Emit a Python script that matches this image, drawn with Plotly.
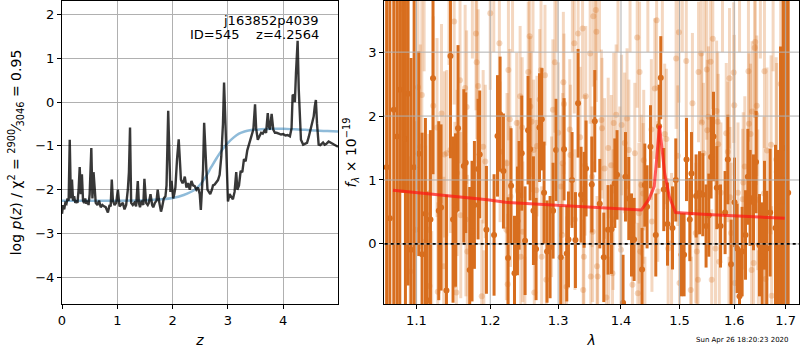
import plotly.graph_objects as go
import math

# ---------------- left panel: redshift probability ----------------
pz_z = [0.00, 0.02, 0.04, 0.06, 0.08, 0.10, 0.12, 0.14, 0.16, 0.18,
        0.20, 0.22, 0.24, 0.26, 0.28, 0.30, 0.32, 0.34, 0.36, 0.38,
        0.40, 0.42, 0.44, 0.46, 0.48, 0.50, 0.53, 0.55, 0.57, 0.59,
        0.61, 0.64, 0.67, 0.70, 0.73, 0.76, 0.79, 0.83, 0.86, 0.88,
        0.90, 0.92, 0.95, 0.98, 1.01, 1.04, 1.07, 1.10, 1.13, 1.16,
        1.19, 1.21, 1.23, 1.25, 1.28, 1.31, 1.34, 1.37, 1.39, 1.41,
        1.44, 1.47, 1.49, 1.52, 1.55, 1.57, 1.60, 1.63, 1.65, 1.68,
        1.71, 1.73, 1.76, 1.79, 1.81, 1.84, 1.87, 1.89, 1.92, 1.94,
        1.96, 1.98, 2.01, 2.03, 2.05, 2.08, 2.11, 2.13, 2.15, 2.18,
        2.20, 2.22, 2.25, 2.28, 2.31, 2.34, 2.37, 2.40, 2.43, 2.46,
        2.49, 2.51, 2.54, 2.55, 2.57, 2.59, 2.61, 2.63, 2.65, 2.68,
        2.71, 2.73, 2.76, 2.79, 2.82, 2.85, 2.88, 2.91, 2.93, 2.95,
        2.97, 3.00, 3.03, 3.06, 3.09, 3.12, 3.15, 3.17, 3.20, 3.23,
        3.26, 3.29, 3.32, 3.35, 3.38, 3.41, 3.44, 3.46, 3.49, 3.51,
        3.54, 3.57, 3.60, 3.63, 3.66, 3.69, 3.72, 3.74, 3.76, 3.79,
        3.82, 3.85, 3.88, 3.92, 3.96, 4.00, 4.04, 4.08, 4.12, 4.15,
        4.17, 4.19, 4.21, 4.23, 4.26, 4.28, 4.30, 4.32, 4.36, 4.40,
        4.43, 4.46, 4.49, 4.52, 4.55, 4.57, 4.59, 4.61, 4.64, 4.67,
        4.70, 4.72, 4.75, 4.78, 4.82, 4.85, 4.88, 4.91, 4.94, 4.97,
        4.99]
pz_logp = [-2.55, -2.35, -2.45, -2.30, -2.32, -2.20, -2.25, -0.86, -2.20, -1.77,
           -2.25, -2.15, -2.30, -2.25, -2.30, -2.00, -1.48, -2.10, -1.65, -2.25,
           -2.30, -2.20, -2.32, -2.25, -2.35, -2.10, -1.05, -2.20, -1.60, -2.05,
           -2.30, -2.35, -2.25, -2.40, -2.35, -2.38, -2.40, -2.52, -2.35, -2.38,
           -1.77, -2.25, -2.35, -2.30, -2.00, -2.38, -2.35, -2.30, -2.45, -2.35,
           -2.00, -1.60, -0.58, -2.30, -2.35, -2.30, -2.38, -1.80, -2.30, -2.40,
           -2.25, -2.35, -1.75, -2.30, -2.35, -2.30, -2.10, -2.35, -2.40, -2.30,
           -2.25, -2.00, -2.30, -2.50, -2.40, -2.20, -2.15, -1.90, -0.20, -1.50,
           -2.05, -1.80, -2.20, -2.10, -1.95, -1.30, -0.85, -1.30, -1.77, -1.85,
           -1.80, -1.70, -1.95, -1.85, -2.00, -1.80, -1.90, -1.92, -2.00, -1.95,
           -2.10, -2.46, -1.90, -1.54, -0.47, -1.20, -1.54, -2.00, -2.05, -2.10,
           -2.00, -1.90, -1.88, -1.83, -1.78, -1.66, -1.24, -0.50, 0.45, -0.30,
           -1.37, -2.27, -2.10, -2.15, -2.22, -2.05, -1.60, -2.00, -1.90, -1.57,
           -1.60, -1.30, -1.35, -1.10, -0.97, -0.85, -0.70, -0.62, -0.05, -0.60,
           -0.86, -0.78, -0.70, -0.72, -0.65, -0.70, -0.25, -0.55, -0.63, -0.27,
           -0.63, -0.70, -0.70, -0.72, -0.74, -0.73, -0.76, -0.75, -0.78, -0.60,
           0.17, 0.15, 0.00, 0.66, 1.40, 0.30, -0.40, -0.86, -0.97, -0.95,
           -0.93, -0.80, -0.63, -0.50, -0.33, -0.10, 0.05, -0.48, -0.97, -0.98,
           -0.95, -0.92, -0.97, -0.95, -0.90, -0.92, -0.93, -0.95, -0.97, -1.00,
           -1.02]

prior_z = [0.0, 0.5, 1.0, 1.5, 1.8, 2.0, 2.2, 2.4, 2.5, 2.6, 2.7, 2.8, 2.9,
           3.0, 3.1, 3.2, 3.3, 3.4, 3.6, 3.8, 4.0, 4.2, 4.4, 4.6, 4.8, 4.99]
prior_logp = [-2.25, -2.25, -2.25, -2.24, -2.22, -2.19, -2.12, -2.00, -1.88, -1.70,
              -1.48, -1.27, -1.08, -0.93, -0.81, -0.72, -0.67, -0.64, -0.62, -0.61,
              -0.61, -0.62, -0.63, -0.65, -0.66, -0.67]

z_ticks = [0, 1, 2, 3, 4]
logp_ticks = [-4, -3, -2, -1, 0, 1, 2]
z_range = [0, 4.99]
logp_range = [-4.61, 2.31]

# ---------------- right panel: spectrum ----------------
dark_wave = [1.062, 1.066, 1.071, 1.0751, 1.0786, 1.0822, 1.0858, 1.0892, 1.0930, 1.0970,
             1.1030, 1.1073, 1.1117, 1.1138, 1.1183, 1.1217, 1.1293, 1.1324, 1.1396, 1.1450,
             1.1485, 1.1518, 1.1553, 1.1631, 1.1658, 1.1713, 1.1745, 1.1778, 1.1829, 1.1852,
             1.1946, 1.2054, 1.2103, 1.2140, 1.2188, 1.2255, 1.2298, 1.2348, 1.2391, 1.2415,
             1.2454, 1.2503, 1.2547, 1.2577, 1.2627, 1.2666, 1.2717, 1.2752, 1.2786, 1.2831,
             1.2877, 1.2923, 1.2968, 1.3040, 1.3091, 1.3133, 1.3159, 1.3215, 1.3268, 1.3309,
             1.3356, 1.3404, 1.3435, 1.3526, 1.3574, 1.3654, 1.3719, 1.3788, 1.3844, 1.3898,
             1.3935, 1.4034, 1.4074, 1.4129, 1.4174, 1.4218, 1.4352, 1.4398, 1.4437, 1.4495,
             1.4586, 1.4643, 1.4672, 1.4724, 1.4789, 1.4876, 1.4934, 1.5035, 1.5081, 1.5124,
             1.5183, 1.5213, 1.5296, 1.5358, 1.5417, 1.5477, 1.5527, 1.5569, 1.5613, 1.5674,
             1.5743, 1.5828, 1.5879, 1.5941, 1.6005, 1.6054, 1.6099, 1.6149, 1.6214, 1.6258,
             1.6302, 1.6367, 1.6417, 1.6483, 1.6534, 1.6581, 1.6626, 1.6691, 1.6797, 1.6849,
             1.6897, 1.6950, 1.7000, 1.7050]
dark_flux = [1.20, 0.40, 2.10, 1.68, 2.41, 4.30, 1.64, 2.35, -0.09, 1.20,
             1.41, -0.16, 0.47, -0.88, 0.38, 2.59, 0.52, 0.57, -0.73, 2.94,
             0.38, 0.53, 1.81, 1.22, 1.27, -0.41, 0.20, 0.61, 1.17, 1.40,
             0.22, 0.14, 1.69, 2.03, 1.14, -0.22, 0.91, -0.46, 0.36, 0.76,
             1.42, 0.05, 1.78, 1.48, 0.52, -0.08, 1.82, 1.95, 0.80, -0.12,
             -0.05, 0.52, 1.47, -0.21, 1.48, -0.15, 0.07, 1.00, 0.06, 2.20,
             0.77, 0.69, 1.18, 0.93, 1.92, 0.63, -0.21, 0.22, 0.23, 0.95,
             1.08, -0.92, 1.05, 0.71, 0.14, 0.07, -0.40, 0.92, 0.58, 1.52,
             0.14, 1.84, 2.60, 0.85, 0.31, 0.25, 1.00, -0.17, -0.17, 1.32,
             0.38, 1.10, 0.75, 0.80, 0.77, 0.28, 0.45, 1.36, 1.68, 0.88,
             0.28, 0.49, 1.32, -0.32, 0.65, -0.07, -0.82, -0.12, 0.14, 1.05,
             0.72, 0.65, 1.28, -0.02, -0.20, 0.45, -0.07, 0.49, 0.25, -0.33,
             0.59, 1.00, 1.50, 0.80]
dark_err = [5.0, 5.0, 4.5, 4.0, 3.8, 3.5, 3.2, 3.0, 3.0, 2.6,
            1.6, 1.9, 1.5, 1.7, 1.4, 1.5, 1.4, 1.3, 1.5, 1.6,
            1.3, 1.2, 1.3, 1.2, 1.1, 1.3, 1.1, 1.0, 1.1, 1.0,
            1.0, 0.95, 0.95, 0.90, 0.90, 0.95, 0.90, 0.90, 0.85, 0.85,
            0.90, 0.85, 0.85, 0.80, 0.85, 0.80, 0.85, 0.80, 0.80, 0.80,
            0.80, 0.75, 0.80, 0.80, 0.80, 0.75, 0.75, 0.75, 0.75, 0.85,
            0.75, 0.75, 0.75, 0.75, 0.80, 0.70, 0.70, 0.70, 0.70, 0.70,
            0.70, 0.75, 0.70, 0.65, 0.65, 0.65, 0.65, 0.65, 0.65, 0.65,
            0.65, 0.65, 0.65, 0.65, 0.65, 0.65, 0.65, 0.65, 0.65, 0.65,
            0.65, 0.65, 0.65, 0.65, 0.65, 0.65, 0.65, 0.65, 0.70, 0.65,
            0.65, 0.65, 0.70, 0.70, 0.70, 0.70, 0.75, 0.70, 0.70, 0.75,
            0.75, 0.75, 0.80, 0.80, 0.85, 0.85, 0.90, 1.0, 1.3, 1.8,
            2.5, 5.0, 5.0, 6.0]

light_wave = [1.081, 1.085, 1.092, 1.099, 1.102, 1.105, 1.107, 1.110, 1.112, 1.116,
              1.117, 1.120, 1.122, 1.127, 1.128, 1.133, 1.136, 1.137, 1.140, 1.143,
              1.145, 1.150, 1.151, 1.153, 1.154, 1.158, 1.159, 1.165, 1.166, 1.167,
              1.168, 1.175, 1.180, 1.181, 1.183, 1.188, 1.190, 1.191, 1.193, 1.200,
              1.205, 1.213, 1.214, 1.223, 1.224, 1.225, 1.226, 1.228, 1.229, 1.232,
              1.238, 1.240, 1.243, 1.244, 1.246, 1.247, 1.250, 1.255, 1.257, 1.258,
              1.260, 1.262, 1.263, 1.264, 1.267, 1.268, 1.272, 1.274, 1.275, 1.280,
              1.282, 1.290, 1.292, 1.295, 1.298, 1.300, 1.304, 1.306, 1.307, 1.308,
              1.309, 1.310, 1.313, 1.318, 1.319, 1.322, 1.325, 1.326, 1.331, 1.334,
              1.338, 1.339, 1.340, 1.342, 1.343, 1.350, 1.351, 1.353, 1.354, 1.355,
              1.359, 1.360, 1.361, 1.362, 1.365, 1.368, 1.369, 1.373, 1.376, 1.379,
              1.380, 1.384, 1.386, 1.387, 1.388, 1.392, 1.395, 1.398, 1.400, 1.401,
              1.406, 1.410, 1.413, 1.415, 1.419, 1.423, 1.427, 1.428, 1.430, 1.431,
              1.432, 1.434, 1.437, 1.438, 1.440, 1.445, 1.451, 1.452, 1.457, 1.460,
              1.462, 1.470, 1.474, 1.477, 1.480, 1.486, 1.494, 1.497, 1.499, 1.500,
              1.505, 1.512, 1.520, 1.521, 1.523, 1.529, 1.531, 1.533, 1.534, 1.539,
              1.540, 1.543, 1.545, 1.549, 1.550, 1.552, 1.556, 1.558, 1.560, 1.565,
              1.567, 1.569, 1.570, 1.572, 1.575, 1.578, 1.585, 1.588, 1.590, 1.591,
              1.592, 1.594, 1.599, 1.600, 1.601, 1.607, 1.610, 1.616, 1.617, 1.620,
              1.627, 1.628, 1.631, 1.633, 1.634, 1.637, 1.639, 1.640, 1.642, 1.643,
              1.645, 1.646, 1.650, 1.657, 1.658, 1.659, 1.660, 1.663, 1.671, 1.672,
              1.675, 1.681, 1.682, 1.690, 1.700]
light_flux = [3.68, 4.20, -0.43, 0.22, 2.45, 1.52, 2.33, 4.20, 0.04, 0.22,
              -0.66, -1.30, 2.16, 1.82, -0.75, 2.04, -0.35, 1.40, 1.42, 4.20,
              1.47, 3.48, 0.61, -0.76, 1.11, 2.56, 0.45, 2.44, 0.38, 2.14,
              -0.12, 4.20, 3.29, 2.84, 2.47, -0.82, 1.52, -1.30, 1.29, 3.61,
              4.20, 3.14, 1.44, 0.22, 1.26, -0.63, 2.72, 1.95, 0.74, 4.20,
              1.89, 0.84, 2.31, -0.20, 1.82, 0.19, -1.30, 2.69, 3.25, 2.15,
              1.91, 4.20, 1.47, -0.76, 0.84, 1.53, 2.26, 2.72, -0.20, 2.64,
              -0.56, 0.58, 2.10, 2.84, 4.20, 1.74, 0.90, 0.14, 1.26, 2.53,
              2.19, -1.30, -0.67, 1.79, 1.39, 4.20, 3.14, 0.38, 3.29, 1.67,
              3.37, -0.72, -0.20, 1.23, 2.31, 2.98, -0.51, 1.05, 0.19, 3.56,
              3.66, 3.32, -0.35, -0.51, 4.20, 1.94, 1.81, 1.18, -0.84, 1.50,
              -1.30, 1.23, -0.46, 0.38, 1.89, 2.02, 4.20, 1.05, -0.09, 1.86,
              1.58, 1.96, 1.47, 4.20, -0.64, 1.42, 3.23, -0.77, 0.48, 2.69,
              -0.12, 0.92, 0.79, 1.31, -1.30, 4.20, 1.79, 0.35, 2.43, 3.50,
              0.82, 4.20, 1.72, 1.64, -0.07, 0.01, 2.90, 1.38, 3.31, -0.61,
              4.20, 2.86, -0.72, -1.30, 2.20, 0.17, -0.12, -0.56, 2.69, 2.98,
              1.90, 1.42, 4.20, 2.73, 1.78, 1.99, 2.85, -0.56, 3.21, -0.07,
              2.08, 1.91, 1.56, -0.28, 0.80, 4.20, 1.73, 1.44, -1.30, 2.59,
              0.73, 0.17, 2.68, 2.17, -0.61, 0.80, 4.20, 0.70, 0.96, 1.21,
              2.70, 1.88, 1.72, -0.41, 2.07, -0.30, 3.07, 3.16, 2.02, 2.16,
              0.69, -1.30, 4.20, 0.79, 2.70, -0.17, -0.55, 1.46, 1.55, -0.81,
              4.20, 1.32, 1.13, 2.50, 0.66]
light_err = [1.9, 1.9, 1.8, 1.7, 1.6, 1.6, 1.6, 1.5, 1.5, 1.5,
             1.5, 1.5, 1.4, 1.4, 1.4, 1.4, 1.4, 1.3, 1.3, 1.4,
             1.3, 1.3, 1.3, 1.3, 1.3, 1.3, 1.3, 1.3, 1.2, 1.2,
             1.2, 1.3, 1.2, 1.2, 1.2, 1.2, 1.2, 1.2, 1.2, 1.2,
             1.2, 1.2, 1.1, 1.1, 1.1, 1.1, 1.1, 1.1, 1.1, 1.2,
             1.1, 1.1, 1.1, 1.1, 1.1, 1.1, 1.1, 1.1, 1.1, 1.1,
             1.1, 1.2, 1.1, 1.1, 1.1, 1.1, 1.1, 1.1, 1.1, 1.1,
             1.1, 1.1, 1.1, 1.1, 1.2, 1.1, 1.1, 1.1, 1.1, 1.1,
             1.1, 1.1, 1.1, 1.1, 1.1, 1.2, 1.1, 1.1, 1.1, 1.1,
             1.1, 1.1, 1.1, 1.1, 1.1, 1.1, 1.1, 1.1, 1.1, 1.1,
             1.1, 1.1, 1.1, 1.1, 1.2, 1.1, 1.1, 1.1, 1.1, 1.1,
             1.1, 1.1, 1.1, 1.1, 1.1, 1.1, 1.2, 1.1, 1.1, 1.1,
             1.1, 1.1, 1.1, 1.2, 1.1, 1.1, 1.1, 1.1, 1.1, 1.1,
             1.1, 1.1, 1.1, 1.1, 1.1, 1.2, 1.1, 1.1, 1.1, 1.1,
             1.1, 1.2, 1.1, 1.1, 1.1, 1.1, 1.1, 1.1, 1.1, 1.1,
             1.2, 1.1, 1.1, 1.1, 1.1, 1.1, 1.1, 1.1, 1.1, 1.1,
             1.1, 1.1, 1.2, 1.1, 1.1, 1.1, 1.1, 1.1, 1.1, 1.1,
             1.1, 1.1, 1.1, 1.1, 1.1, 1.2, 1.1, 1.1, 1.1, 1.1,
             1.1, 1.1, 1.1, 1.1, 1.1, 1.1, 1.2, 1.1, 1.1, 1.1,
             1.1, 1.1, 1.1, 1.1, 1.1, 1.1, 1.1, 1.1, 1.1, 1.1,
             1.1, 1.2, 1.3, 1.2, 1.2, 1.2, 1.2, 1.3, 1.4, 1.4,
             1.5, 1.6, 1.7, 2.5, 3.0]

model_wave = [1.070, 1.130, 1.196, 1.222, 1.300, 1.355, 1.434, 1.447, 1.456,
              1.465, 1.474, 1.482, 1.493, 1.550, 1.600, 1.650, 1.698]
model_flux = [0.84, 0.77, 0.69, 0.65, 0.60, 0.57, 0.53, 0.70, 0.90,
              1.85, 1.10, 0.74, 0.49, 0.46, 0.44, 0.42, 0.40]

wave_ticks = [1.1, 1.2, 1.3, 1.4, 1.5, 1.6, 1.7]
wave_tick_labels = ["1.1", "1.2", "1.3", "1.4", "1.5", "1.6", "1.7"]
flux_ticks = [0, 1, 2, 3]
wave_range = [1.0588, 1.7269]
flux_range = [-0.94, 3.80]

for a, b in [(pz_z, pz_logp), (prior_z, prior_logp), (dark_wave, dark_flux),
             (dark_wave, dark_err), (light_wave, light_flux), (light_wave, light_err),
             (model_wave, model_flux)]:
    if len(a) != len(b):
        raise ValueError("length mismatch %d %d" % (len(a), len(b)))

FONT = "DejaVu Sans"
GRID = "#b0b0b0"
DARK = "rgb(216,110,30)"
LIGHT = "rgba(216,110,30,0.28)"

fig = go.Figure()

# left panel traces
fig.add_trace(go.Scatter(x=prior_z, y=prior_logp, mode="lines",
                         line=dict(color="rgba(31,119,180,0.5)", width=2.5, shape="spline"),
                         xaxis="x", yaxis="y", hoverinfo="skip"))
fig.add_trace(go.Scatter(x=pz_z, y=pz_logp, mode="lines",
                         line=dict(color="rgba(0,0,0,0.78)", width=2.4),
                         xaxis="x", yaxis="y", hoverinfo="skip"))

# right panel traces
fig.add_trace(go.Scatter(x=light_wave, y=light_flux, mode="markers",
                         marker=dict(size=6, color=LIGHT, line=dict(width=0)),
                         error_y=dict(type="data", array=light_err, thickness=3,
                                      width=0, color=LIGHT),
                         xaxis="x2", yaxis="y2", hoverinfo="skip"))
fig.add_trace(go.Scatter(x=dark_wave, y=dark_flux, mode="markers",
                         marker=dict(size=6, color=DARK, line=dict(width=0)),
                         error_y=dict(type="data", array=dark_err, thickness=3,
                                      width=0, color=DARK),
                         xaxis="x2", yaxis="y2", hoverinfo="skip"))

# grid lines for the right panel drawn over the data (as in the reference)
gx, gy = [], []
for t in wave_ticks:
    gx += [t, t, None]
    gy += [flux_range[0] - 5, flux_range[1] + 5, None]
for t in flux_ticks:
    gx += [wave_range[0] * 0.9, wave_range[1] * 1.1, None]
    gy += [t, t, None]
fig.add_trace(go.Scatter(x=gx, y=gy, mode="lines", line=dict(color=GRID, width=1),
                         xaxis="x2", yaxis="y2", hoverinfo="skip"))
fig.add_trace(go.Scatter(x=[wave_range[0] * 0.9, wave_range[1] * 1.1], y=[0, 0],
                         mode="lines", line=dict(color="black", width=1.6, dash="dot"),
                         xaxis="x2", yaxis="y2", hoverinfo="skip"))
fig.add_trace(go.Scatter(x=model_wave, y=model_flux, mode="lines",
                         line=dict(color="rgba(255,20,20,0.7)", width=3),
                         xaxis="x2", yaxis="y2", hoverinfo="skip"))

axis_common = dict(showline=True, mirror=True, linecolor="black", linewidth=1,
                   ticks="outside", ticklen=4, tickcolor="black", zeroline=False,
                   tickfont=dict(family=FONT, size=13, color="black"))

fig.update_layout(
    width=800, height=350,
    margin=dict(l=62, r=1, t=1, b=46),
    paper_bgcolor="white", plot_bgcolor="white",
    showlegend=False, hovermode=False,
    font=dict(family=FONT, size=13, color="black"),
    xaxis=dict(domain=[0, 0.3745], range=z_range, tickvals=z_ticks,
               showgrid=True, gridcolor=GRID, gridwidth=1, anchor="y",
               title=dict(text="<i>z</i>", font=dict(family=FONT, size=14), standoff=8),
               **axis_common),
    yaxis=dict(domain=[0, 1], range=logp_range, tickvals=logp_ticks,
               showgrid=True, gridcolor=GRID, gridwidth=1, anchor="x",
               title=dict(text="log <i>p</i>(<i>z</i>) / χ<sup>2</sup> = "
                               "<sup>2900</sup>⁄<sub>3046</sub> = 0.95",
                          font=dict(family=FONT, size=14), standoff=10),
               **axis_common),
    xaxis2=dict(domain=[0.437, 1], type="log",
                range=[math.log10(wave_range[0]), math.log10(wave_range[1])],
                tickvals=wave_ticks, ticktext=wave_tick_labels,
                showgrid=False, anchor="y2",
                title=dict(text="<i>λ</i>", font=dict(family=FONT, size=14), standoff=8),
                **axis_common),
    yaxis2=dict(domain=[0, 1], range=flux_range, tickvals=flux_ticks,
                showgrid=False, anchor="x2",
                title=dict(text="<i>f</i><sub><i>λ</i></sub> × 10<sup>−19</sup>",
                           font=dict(family=FONT, size=14), standoff=8),
                **axis_common),
)

fig.add_annotation(text="j163852p4039", xref="x domain", yref="y domain",
                   x=0.94, y=0.937, xanchor="right", yanchor="middle",
                   showarrow=False, font=dict(family=FONT, size=13, color="black"))
fig.add_annotation(text="ID=545\u00a0\u00a0\u00a0\u00a0z=4.2564", xref="x domain", yref="y domain",
                   x=0.94, y=0.888, xanchor="right", yanchor="middle",
                   showarrow=False, font=dict(family=FONT, size=13, color="black"))
fig.add_annotation(text="Sun Apr 26 18:20:23 2020", xref="paper", yref="paper",
                   x=0.9227, y=-0.119, xanchor="center", yanchor="middle",
                   showarrow=False, font=dict(family=FONT, size=7, color="black"))

fig.write_html("out.html", config={"displayModeBar": False},
               post_script="document.body.style.margin='0';"
                           "document.body.style.overflow='hidden';")
